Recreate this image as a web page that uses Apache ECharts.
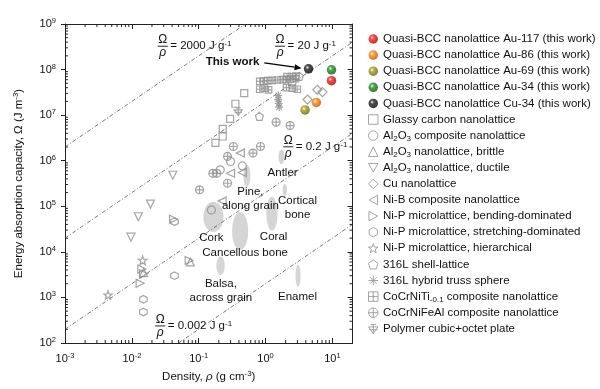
<!DOCTYPE html>
<html><head><meta charset="utf-8">
<script src="https://cdn.jsdelivr.net/npm/echarts@6/dist/echarts.min.js"></script>
<style>html,body{margin:0;padding:0;background:#fff}#c{width:600px;height:389px}</style>
</head><body><div id="c"></div>
<script>
const FONT = '"Liberation Sans", Arial, Helvetica, sans-serif';
const X_MIN = 0.001, X_MAX = 20, Y_MIN = 100, Y_MAX = 1e9;

// ---- data (density g/cm3, energy absorption J/m3) ----
const quasiAu117 = [[9.7, 5.7e7]];
const quasiAu86 = [[5.75, 1.9e7]];
const quasiAu69 = [[3.9, 1.3e7]];
const quasiAu34 = [[9.7, 9.9e7]];
const quasiCu34 = [[4.4, 1.04e8]];
const glassyCarbon = [[0.48,3.05e7],[0.354,1.78e7],[0.295,8.3e6],[0.229,5.0e6],[0.229,3.4e6],[0.178,2.47e6]];
const al2o3Composite = [[0.3,9.6e5],[0.45,7.7e5],[0.21,6.3e5],[0.155,8.3e4],[2.5,5.3e7]];
const al2o3Brittle = [[0.075,6.0e3],[0.015,3.5e3]];
const al2o3Ductile = [[0.041,4.8e5],[0.019,1.12e5],[0.0125,5.9e4],[0.0097,2.1e4]];
const cuNano = [[5.95,3.6e7],[7.1,3.2e7],[4.25,2.2e7]];
const niBComposite = [[0.42,1.47e6],[0.3,5.3e5],[0.45,5.5e5],[0.224,1.3e5]];
const niPBending = [[0.042,5.2e4],[0.0141,4.2e3],[0.015,3.3e3],[0.0133,2.05e3],[0.072,6.5e3]];
const niPStretching = [[0.0435,4.6e4],[0.0435,3.0e3],[0.0149,910],[0.0149,480]];
const niPHierarchical = [[0.0145,6.5e3],[0.0044,1.13e3]];
const shell316L = [[3.2,7.1e7],[0.81,9.4e6]];
const truss316L = [[1.55,2.7e7],[1.55,2.2e7],[1.58,1.8e7],[1.6,1.5e7]];
const coCrNiTi = [[0.82,5.5e7],[0.94,5.6e7],[1.08,5.7e7],[1.26,5.8e7],[1.5,5.9e7],[1.78,6.0e7],[2.06,6.1e7],[2.37,6.2e7],[2.81,6.3e7],[0.82,3.7e7],[0.96,3.9e7],[1.11,3.6e7],[2.06,4.0e7],[2.51,3.9e7],[2.98,3.7e7],[2.1,7.0e7],[2.5,7.0e7],[2.85,7.2e7]];
const coCrNiFeAl = [[1.44,7.0e6],[2.33,5.9e6],[0.33,2.05e6],[0.84,2.05e6],[0.65,1.47e6],[0.27,1.24e6],[0.163,5.3e5],[0.187,5.3e5],[0.27,3.2e5],[0.103,2.3e5]];
const polymerPlate = [[0.39,1.2e7]];

// natural materials: [xMin, xMax, yMin, yMax]
const naturalRegions = [[1.56,1.92,8.5e5,1.73e6],[0.467,0.594,2.67e5,8.1e5],[1.8,2.1,1.69e5,3.1e5],[1.03,1.51,2.9e4,1.61e5],[0.1175,0.2345,2.74e4,1.25e5],[0.316,0.55,1.1e4,7.5e4],[0.184,0.245,3.1e3,7.9e3],[2.81,3.34,1.7e3,5.2e3]];
const naturalLabels = ['Antler','Pine,\nalong grain','Cortical\nbone','Cork','Coral','Cancellous bone','Balsa,\nacross grain','Enamel'];
const naturalLabelPos = [[1.8,5.4e5],[0.594,1.46e5],[3.01,9.1e4],[0.155,2.0e4],[1.32,2.16e4],[0.495,9.6e3],[0.215,1.41e3],[3.01,1.01e3]];

// specific energy guide lines, J/g
const guideK = [2000, 20, 0.2, 0.002];
const guideLabels = ['2000', '20', '0.2', '0.002'];
const guideLabelPos = [[0.029,3.25e8],[1.65,3.25e8],[2.19,2.02e6],[0.0266,237]];

// "This work" annotation: text anchor, arrow start, arrow end
const thisWork = [[0.81,1.49e8,0.96,1.41e8,3.46,1.07e8]];

// ---- styling ----
const GREY = '#8e8e8e';
const HOLLOW = 'rgba(255,255,255,0)';
const sphere = (base, dark) => ({type:'radial', x:0.38, y:0.36, r:0.7, colorStops:[
  {offset:0,color:'#ffffff'},{offset:0.28,color:base},{offset:1,color:dark}]});

const SYM = {
  down: 'path://M0,0 L10,0 L5,9 Z',
  left: 'path://M9,0 L9,10 L0,5 Z',
  right: 'path://M0,0 L0,10 L9,5 Z',
  hex: 'path://M5,0 L9.33,2.5 L9.33,7.5 L5,10 L0.67,7.5 L0.67,2.5 Z',
  star: 'path://M5,0 L6.2,3.5 L10,3.6 L7,5.9 L8.1,9.6 L5,7.4 L1.9,9.6 L3,5.9 L0,3.6 L3.8,3.5 Z',
  pent: 'path://M5,0 L10,3.7 L8.1,9.6 L1.9,9.6 L0,3.7 Z',
  aster: 'path://M5,0 L5,10 M0,5 L10,5 M1.5,1.5 L8.5,8.5 M8.5,1.5 L1.5,8.5',
  boxPlus: 'path://M0,0 L10,0 L10,10 L0,10 Z M5,0 L5,10 M0,5 L10,5',
  circPlus: 'path://M10,5 A5,5 0 1,1 0,5 A5,5 0 1,1 10,5 Z M5,0 L5,10 M0,5 L10,5',
  plate: 'path://M0,3 L10,3 L5,10 Z M5,0 L5,10 M2,0.5 L8,0.5 M0.5,6 L9.5,6'
};

const hollow = (name, data, symbol, size) => ({
  name, type:'scatter', data, symbol, symbolSize: size,
  itemStyle: {color: HOLLOW, borderColor: GREY, borderWidth: 1.2}, z: 4
});
const ball = (name, data, base, dark) => ({
  name, type:'scatter', data, symbol:'circle', symbolSize: 9.5,
  itemStyle: {color: sphere(base, dark)}, z: 6
});

const scatterSeries = [
  ball('Quasi-BCC nanolattice Au-117 (this work)', quasiAu117, '#ff1a1a', '#a00000'),
  ball('Quasi-BCC nanolattice Au-86 (this work)', quasiAu86, '#ff8c10', '#b05000'),
  ball('Quasi-BCC nanolattice Au-69 (this work)', quasiAu69, '#a8a020', '#5e5808'),
  ball('Quasi-BCC nanolattice Au-34 (this work)', quasiAu34, '#1e9a1e', '#0a500a'),
  ball('Quasi-BCC nanolattice Cu-34 (this work)', quasiCu34, '#222222', '#000000'),
  hollow('Glassy carbon nanolattice', glassyCarbon, 'rect', 7),
  hollow('Al2O3 composite nanolattice', al2o3Composite, 'circle', 8),
  hollow('Al2O3 nanolattice, brittle', al2o3Brittle, 'triangle', 8),
  hollow('Al2O3 nanolattice, ductile', al2o3Ductile, SYM.down, 8),
  hollow('Cu nanolattice', cuNano, 'diamond', 9),
  hollow('Ni-B composite nanolattice', niBComposite, SYM.left, 8),
  hollow('Ni-P microlattice, bending-dominated', niPBending, SYM.right, 8),
  hollow('Ni-P microlattice, stretching-dominated', niPStretching, SYM.hex, 7.5),
  hollow('Ni-P microlattice, hierarchical', niPHierarchical, SYM.star, 8.5),
  hollow('316L shell-lattice', shell316L, SYM.pent, 8),
  hollow('316L hybrid truss sphere', truss316L, SYM.aster, 8),
  hollow('CoCrNiTi-0.1 composite nanolattice', coCrNiTi, SYM.boxPlus, 6.5),
  hollow('CoCrNiFeAl composite nanolattice', coCrNiFeAl, SYM.circPlus, 8),
  hollow('Polymer cubic+octet plate', polymerPlate, SYM.plate, 8)
];
const legendNames = scatterSeries.map(s => s.name);
const legendLabels = {
  'Al2O3 composite nanolattice': 'Al{sub|2}O{sub|3} composite nanolattice',
  'Al2O3 nanolattice, brittle': 'Al{sub|2}O{sub|3} nanolattice, brittle',
  'Al2O3 nanolattice, ductile': 'Al{sub|2}O{sub|3} nanolattice, ductile',
  'CoCrNiTi-0.1 composite nanolattice': 'CoCrNiTi{sub|-0.1} composite nanolattice'
};

const guideSeries = guideK.map(k => {
  const f = k * 1e6; // g/cm3 -> g/m3
  const lo = Math.max(X_MIN, Y_MIN / f), hi = Math.min(X_MAX, Y_MAX / f);
  return {type:'line', data:[[lo, f*lo],[hi, f*hi]], symbol:'none', silent:true, z:2,
    lineStyle:{color:'#555', width:0.8, type:[4,2,1,2]}};
});

const minorX = [], minorY = [];
for (let e = -3; e <= 1; e++) for (let m = 2; m <= 9; m++) { const v = m * Math.pow(10, e); if (v < X_MAX) minorX.push([v, Y_MIN]); }
for (let e = 2; e <= 8; e++) for (let m = 2; m <= 9; m++) minorY.push([X_MIN, m * Math.pow(10, e)]);

const txt = (extra) => Object.assign({fill:'#111', fontFamily: FONT, fontSize: 11.5}, extra);

const customSeries = [
  {type:'custom', coordinateSystem:'cartesian2d', data: naturalRegions, encode:{x:[0,1], y:[2,3]}, z:1, silent:true,
    renderItem: (p, api) => {
      const a = api.coord([api.value(0), api.value(3)]), b = api.coord([api.value(1), api.value(2)]);
      return {type:'ellipse', shape:{cx:(a[0]+b[0])/2, cy:(a[1]+b[1])/2, rx:Math.abs(b[0]-a[0])/2, ry:Math.abs(b[1]-a[1])/2}, style:{fill:'#d5d5d5'}};
    }},
  {type:'custom', coordinateSystem:'cartesian2d', data: naturalLabelPos, z:7, silent:true,
    renderItem: (p, api) => {
      const c = api.coord([api.value(0), api.value(1)]);
      return {type:'text', x:c[0], y:c[1], style: txt({text: naturalLabels[p.dataIndex], align:'center', verticalAlign:'middle', lineHeight:14})};
    }},
  {type:'custom', coordinateSystem:'cartesian2d', data: guideLabelPos, z:7, silent:true,
    renderItem: (p, api) => {
      const c = api.coord([api.value(0), api.value(1)]);
      return {type:'group', children:[
        {type:'text', x:c[0], y:c[1]-0.5, style: txt({text:'Ω', align:'center', verticalAlign:'bottom', fontSize:12})},
        {type:'line', shape:{x1:c[0]-5, y1:c[1], x2:c[0]+5, y2:c[1]}, style:{stroke:'#111', lineWidth:0.9}},
        {type:'text', x:c[0], y:c[1]+0.5, style: txt({text:'ρ', align:'center', verticalAlign:'top', fontSize:12, fontStyle:'italic'})},
        {type:'text', x:c[0]+7.5, y:c[1], style: txt({text:'= ' + guideLabels[p.dataIndex] + ' J g{s|-1}', align:'left', verticalAlign:'middle',
          rich:{s:{fontSize:8, fontFamily:FONT, fill:'#111', verticalAlign:'top', lineHeight:8}}})}
      ]};
    }},
  {type:'custom', coordinateSystem:'cartesian2d', data: thisWork, z:7, silent:true,
    renderItem: (p, api) => {
      const t = api.coord([api.value(0), api.value(1)]);
      const a = api.coord([api.value(2), api.value(3)]), b = api.coord([api.value(4), api.value(5)]);
      const dx = b[0]-a[0], dy = b[1]-a[1], L = Math.hypot(dx, dy), ux = dx/L, uy = dy/L;
      const hl = 7, hw = 3;
      const base = [b[0]-ux*hl, b[1]-uy*hl];
      return {type:'group', children:[
        {type:'text', x:t[0], y:t[1], style: txt({text:'This work', fontWeight:'bold', align:'right', verticalAlign:'middle'})},
        {type:'line', shape:{x1:a[0], y1:a[1], x2:base[0], y2:base[1]}, style:{stroke:'#000', lineWidth:1.3}},
        {type:'polygon', shape:{points:[b, [base[0]-uy*hw, base[1]+ux*hw], [base[0]+uy*hw, base[1]-ux*hw]]}, style:{fill:'#000'}}
      ]};
    }},
  {type:'custom', coordinateSystem:'cartesian2d', data: minorX, z:8, silent:true,
    renderItem: (p, api) => {
      const b = api.coord([api.value(0), Y_MIN]), t = api.coord([api.value(0), Y_MAX]);
      return {type:'group', children:[
        {type:'line', shape:{x1:b[0], y1:b[1], x2:b[0], y2:b[1]-3}, style:{stroke:'#222', lineWidth:1}},
        {type:'line', shape:{x1:t[0], y1:t[1], x2:t[0], y2:t[1]+3}, style:{stroke:'#222', lineWidth:1}}
      ]};
    }},
  {type:'custom', coordinateSystem:'cartesian2d', data: minorY, z:8, silent:true,
    renderItem: (p, api) => {
      const l = api.coord([X_MIN, api.value(1)]), r = api.coord([X_MAX, api.value(1)]);
      return {type:'group', children:[
        {type:'line', shape:{x1:l[0], y1:l[1], x2:l[0]+3, y2:l[1]}, style:{stroke:'#222', lineWidth:1}},
        {type:'line', shape:{x1:r[0], y1:r[1], x2:r[0]-3, y2:r[1]}, style:{stroke:'#222', lineWidth:1}}
      ]};
    }}
];

const powFmt = v => {
  const e = Math.log10(v), r = Math.round(e);
  if (Math.abs(e - r) > 0.01) return '';
  return '{b|10}{s|' + r + '}';
};
const tickRich = {b:{fontSize:11, fontFamily:FONT, color:'#111', lineHeight:14}, s:{fontSize:7.5, fontFamily:FONT, color:'#111', verticalAlign:'top', lineHeight:8}};
const axisLine = {show:true, lineStyle:{color:'#222', width:1}};
const nameStyle = {fontSize:11.5, fontFamily:FONT, color:'#111', lineHeight:14,
  rich:{i:{fontSize:11.5, fontFamily:FONT, color:'#111', fontStyle:'italic'}, s:{fontSize:8, fontFamily:FONT, color:'#111', verticalAlign:'top', lineHeight:8}}};

const chart = echarts.init(document.getElementById('c'));
chart.setOption({
  animation:false,
  backgroundColor:'#fff',
  grid:{left:65, top:24, width:287.5, height:319},
  xAxis:[
    {type:'log', logBase:10, min:X_MIN, max:X_MAX, position:'bottom', axisLine, splitLine:{show:false},
      axisTick:{inside:true, length:5, lineStyle:{color:'#222'}},
      axisLabel:{formatter: powFmt, margin:9, rich: tickRich},
      name:'Density, {i|ρ} (g cm{s|-3})', nameLocation:'middle', nameGap:25, nameTextStyle:nameStyle},
    {type:'log', logBase:10, min:X_MIN, max:X_MAX, position:'top', axisLine, splitLine:{show:false},
      axisTick:{inside:true, length:5, lineStyle:{color:'#222'}}, axisLabel:{show:false}}
  ],
  yAxis:[
    {type:'log', logBase:10, min:Y_MIN, max:Y_MAX, position:'left', axisLine, splitLine:{show:false},
      axisTick:{inside:false, length:4, lineStyle:{color:'#222'}},
      axisLabel:{formatter: powFmt, margin:9, rich: tickRich},
      name:'Energy absorption capacity, Ω (J m{s|-3})', nameLocation:'middle', nameGap:39, nameRotate:90, nameTextStyle:nameStyle},
    {type:'log', logBase:10, min:Y_MIN, max:Y_MAX, position:'right', axisLine, splitLine:{show:false},
      axisTick:{inside:true, length:5, lineStyle:{color:'#222'}}, axisLabel:{show:false}}
  ],
  legend:{data: legendNames, orient:'vertical', left:363, top:27, itemWidth:9.5, itemHeight:9.5, itemGap:2.1,
    selectedMode:false, formatter: n => legendLabels[n] || n,
    itemStyle:{borderWidth:1},
    textStyle:{fontSize:11.5, fontFamily:FONT, color:'#111', lineHeight:14,
      rich:{sub:{fontSize:8, fontFamily:FONT, color:'#111', verticalAlign:'bottom', lineHeight:8}}}},
  series: [...customSeries.slice(0,1), ...guideSeries, ...scatterSeries, ...customSeries.slice(1)]
});
</script></body></html>
